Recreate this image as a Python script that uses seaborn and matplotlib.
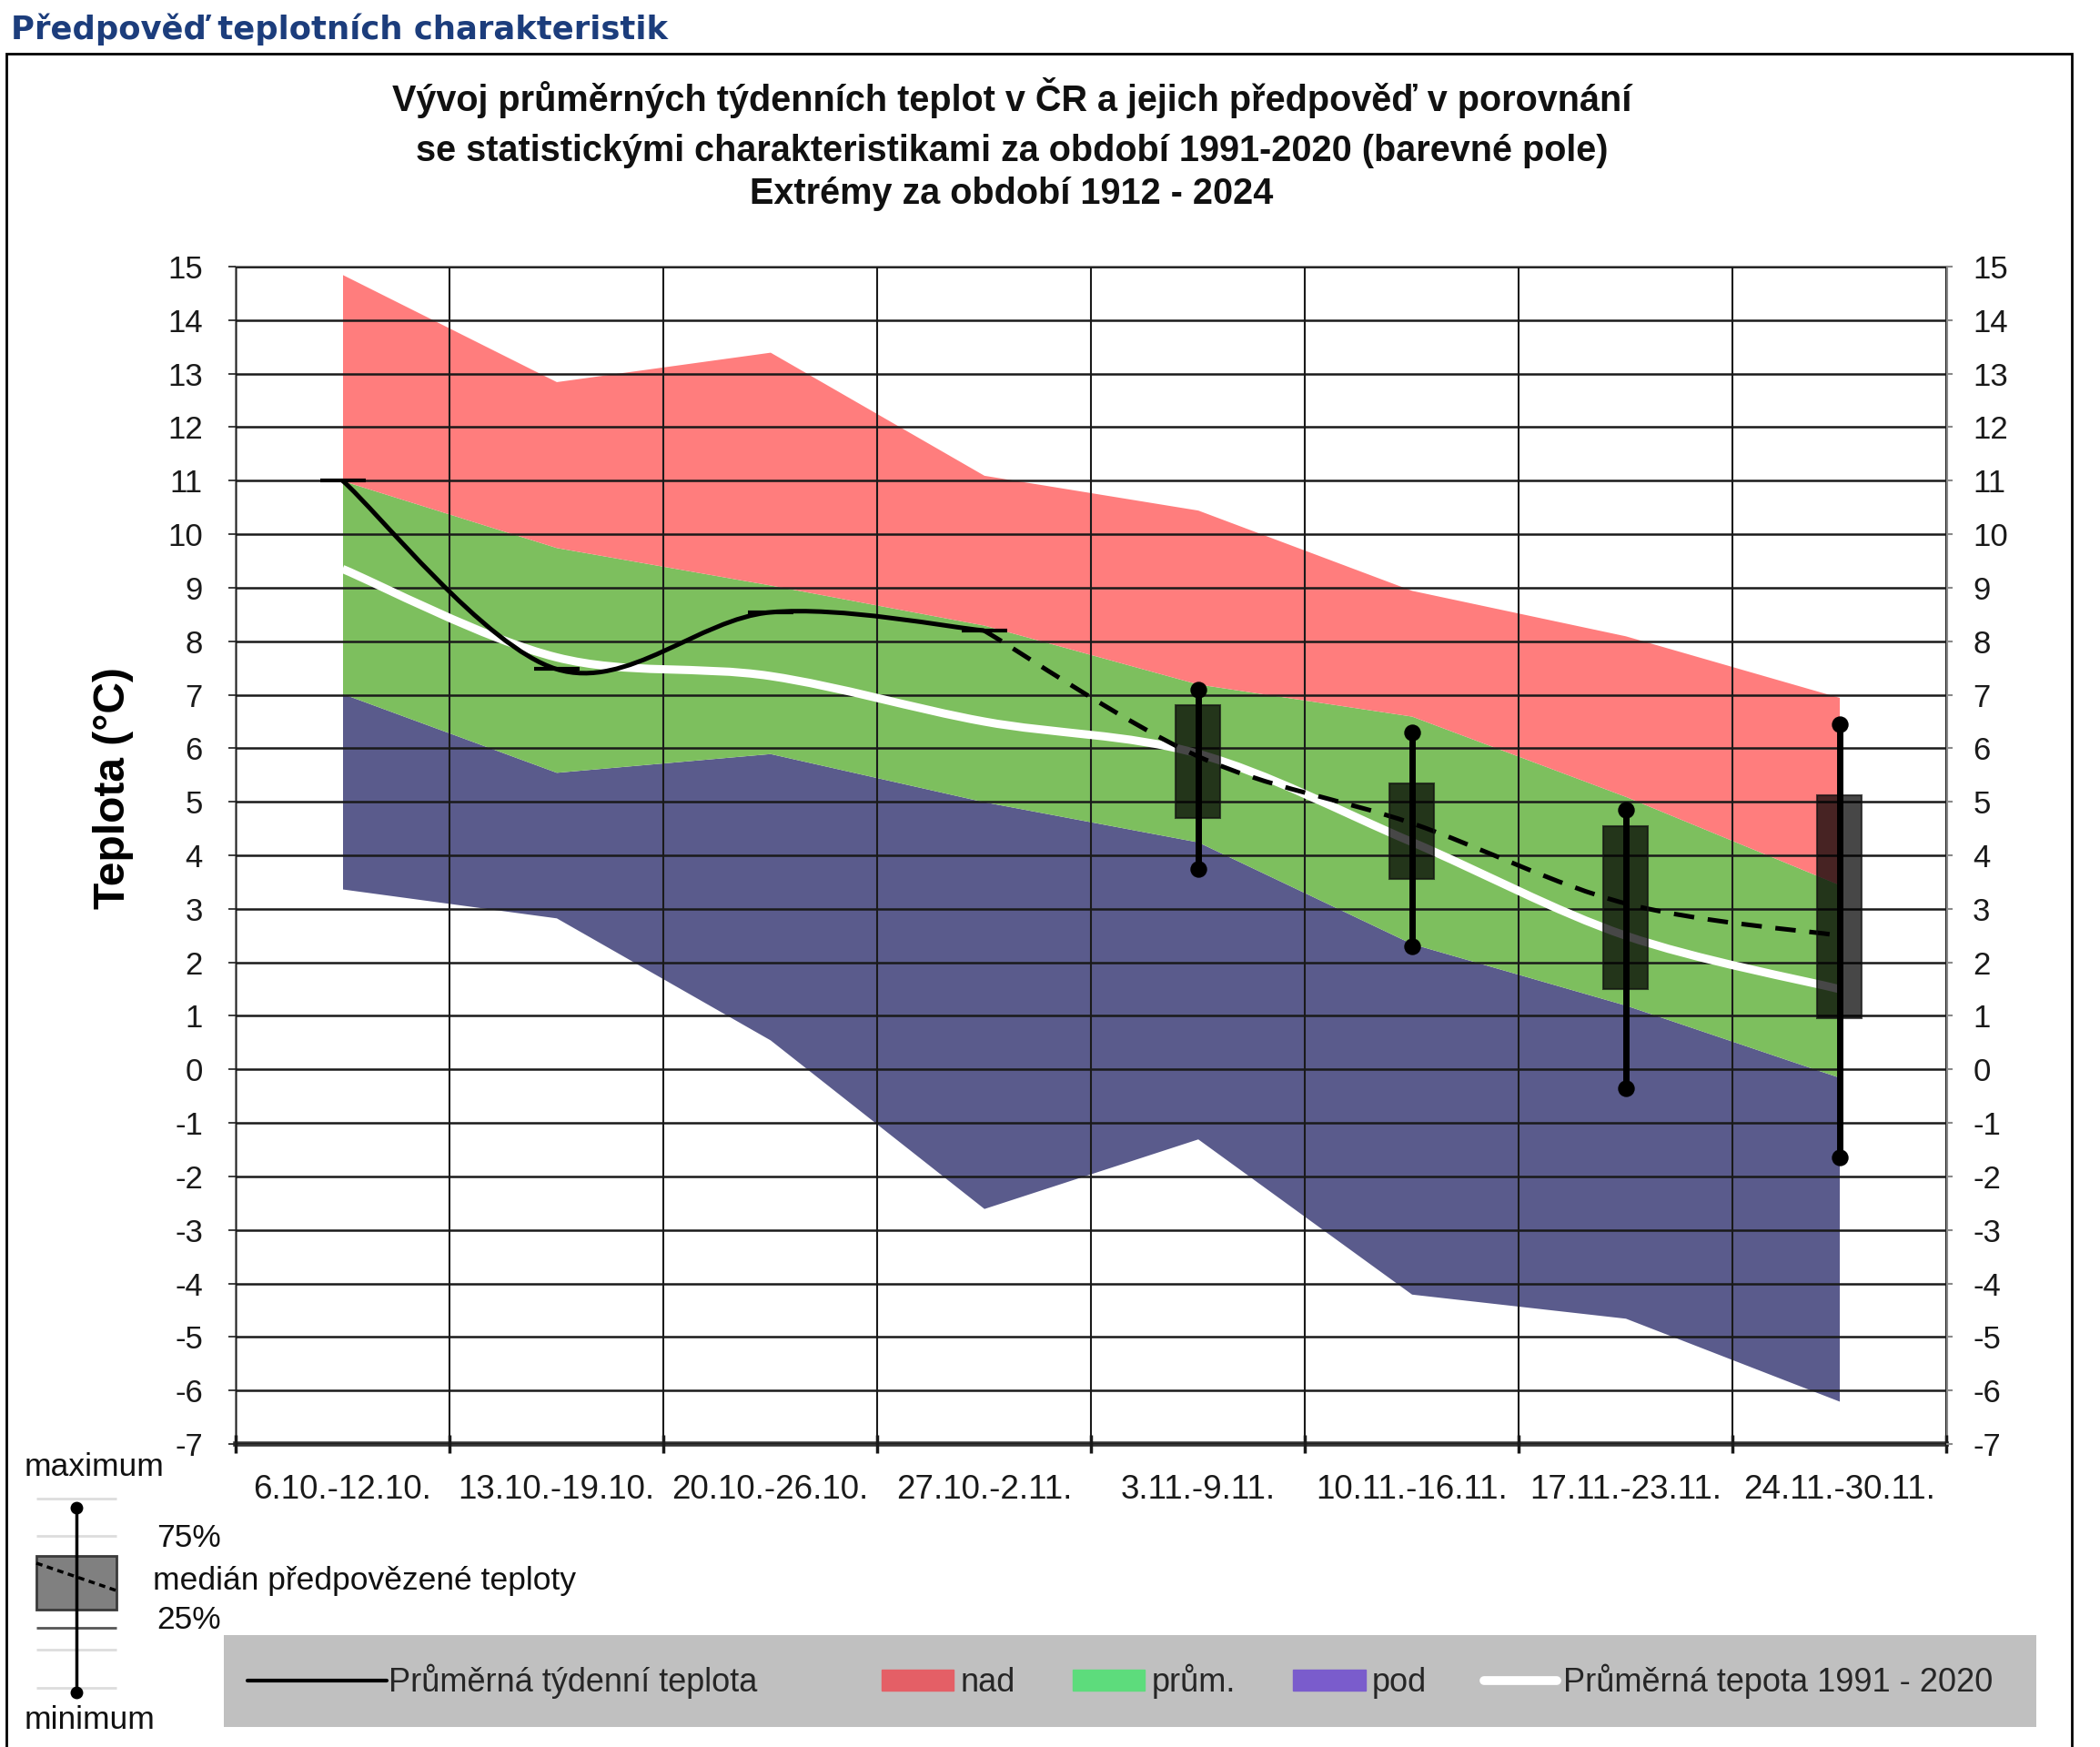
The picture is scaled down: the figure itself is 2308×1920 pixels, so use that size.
import matplotlib
matplotlib.use("Agg")
import matplotlib.pyplot as plt
import seaborn as sns
import numpy as np
import pandas as pd
from matplotlib.path import Path
from matplotlib.patches import PathPatch, Rectangle, Patch
from matplotlib.lines import Line2D

# weeks on the x axis
weeks = ["6.10.-12.10.", "13.10.-19.10.", "20.10.-26.10.", "27.10.-2.11.",
         "3.11.-9.11.", "10.11.-16.11.", "17.11.-23.11.", "24.11.-30.11."]
# extremes 1912-2024 and limits of the 1991-2020 "normal" band
ext_max = [14.85, 12.85, 13.4, 11.1, 10.45, 8.95, 8.1, 6.95]
band_top = [11.0, 9.75, 9.05, 8.3, 7.2, 6.6, 5.1, 3.45]
band_bottom = [7.02, 5.55, 5.9, 5.0, 4.25, 2.35, 1.2, -0.15]
ext_min = [3.37, 2.83, 0.55, -2.6, -1.3, -4.2, -4.65, -6.2]
clim_mean = [9.35, 7.7, 7.35, 6.5, 5.9, 4.25, 2.5, 1.5]
# observed weekly means (weeks 0-3) and forecast median (weeks 3-7)
observed = [11.0, 7.48, 8.54, 8.2]
forecast = [8.2, 5.85, 4.6, 3.1, 2.5]
# forecast spread for weeks 4-7
fc_q25 = [4.7, 3.55, 1.5, 0.95]
fc_q75 = [6.8, 5.35, 4.55, 5.12]
fc_min = [3.75, 2.3, -0.35, -1.65]
fc_max = [7.1, 6.3, 4.85, 6.45]
yticks = list(range(-7, 16))
ytick_labels = [str(v) for v in yticks]

RED = "#ff7d7d"
GREEN = "#7dbf5e"
BLUE = "#5a5b8c"

sns.set_theme(style="white")
plt.rcParams["font.family"] = ["Liberation Sans", "DejaVu Sans"]

df = pd.DataFrame({"week": weeks, "x": np.arange(len(weeks)),
                   "ext_max": ext_max, "top": band_top, "bottom": band_bottom,
                   "ext_min": ext_min, "clim": clim_mean})
fc = pd.DataFrame({"x": np.arange(4, 8), "q25": fc_q25, "q75": fc_q75,
                   "lo": fc_min, "hi": fc_max})


def smooth_path(xs, ys):
    # excel-like smoothed line: bezier segments through the points
    pts = np.column_stack([xs, ys]).astype(float)
    n = len(pts)
    verts = [pts[0]]
    codes = [Path.MOVETO]
    for i in range(n - 1):
        p0 = pts[max(i - 1, 0)]
        p1 = pts[i]
        p2 = pts[i + 1]
        p3 = pts[min(i + 2, n - 1)]
        verts += [p1 + (p2 - p0) / 6, p2 - (p3 - p1) / 6, p2]
        codes += [Path.CURVE4] * 3
    return Path(verts, codes)


W, H = 2308, 1920
fig = plt.figure(figsize=(W / 100, H / 100), dpi=100)
ax = fig.add_axes([259 / W, 1 - 1587 / H, 1880 / W, 1294 / H])

ax.fill_between(df.x, df.ext_min, df.bottom, color=BLUE, lw=0, zorder=1)
ax.fill_between(df.x, df.bottom, df.top, color=GREEN, lw=0, zorder=1)
ax.fill_between(df.x, df.top, df.ext_max, color=RED, lw=0, zorder=1)

ax.add_patch(PathPatch(smooth_path(df.x, df.clim), fill=False, ec="white",
                       lw=6.5, capstyle="butt", zorder=3))
ax.add_patch(PathPatch(smooth_path(df.x[:4], observed), fill=False, ec="black",
                       lw=3.6, zorder=4))
ax.add_patch(PathPatch(smooth_path(np.arange(3, 8), forecast), fill=False,
                       ec="black", lw=3.6, ls=(0, (4.5, 3)), zorder=4))
ax.plot(df.x[:4], observed, ls="none", marker="_", ms=36, mew=3,
        color="black", zorder=4)

ax.bar(fc.x, fc.q75 - fc.q25, bottom=fc.q25, width=0.21, color="black",
       alpha=0.72, edgecolor="#111111", lw=1.5, zorder=5)
ax.vlines(fc.x, fc.lo, fc.hi, color="black", lw=5, zorder=6)
sns.scatterplot(x=np.concatenate([fc.x, fc.x]), y=np.concatenate([fc.lo, fc.hi]),
                color="black", s=150, marker="o", edgecolor="black",
                ax=ax, zorder=7, legend=False)

ax.set_xlim(-0.5, 7.5)
ax.set_ylim(-7, 15)
ax.set_yticks(yticks)
ax.set_yticklabels(ytick_labels)
ax.set_xticks(df.x)
ax.set_xticklabels(weeks)
ax.set_xticks(np.arange(-0.5, 8, 1), minor=True)
ax.set_axisbelow(False)
ax.grid(axis="y", which="major", color="#1a1a1a", lw=1.8)
ax.grid(axis="x", which="minor", color="#1a1a1a", lw=1.5)
ax.grid(axis="x", which="major", visible=False)
ax.tick_params(axis="y", left=False, pad=20, labelsize=25, labelcolor="#1a1a1a")
ax.tick_params(axis="x", which="major", length=0, pad=24, labelsize=26.5,
               labelcolor="#1a1a1a")
ax.tick_params(axis="x", which="minor", bottom=True, direction="inout",
               length=14, width=2.5, color="#1a1a1a")
for s in ["left", "top", "right"]:
    ax.spines[s].set_color("#8a8a8a")
    ax.spines[s].set_linewidth(2.2)
ax.spines["bottom"].set_color("#333333")
ax.spines["bottom"].set_linewidth(4)
ax.set_ylabel("Teplota (°C)", fontsize=34.5, fontweight="bold", color="black")
ax.yaxis.set_label_coords(-0.0596, 0.557)

ax2 = ax.twinx()
ax2.set_ylim(-7, 15)
ax2.set_yticks(yticks)
ax2.set_yticklabels(ytick_labels)
ax2.tick_params(axis="y", right=True, length=5, width=1.5, color="#8a8a8a",
                pad=16, labelsize=25, labelcolor="#1a1a1a")
for s in ax2.spines.values():
    s.set_visible(False)
ax2.grid(False)

# heading, frame and titles
fig.text(12 / W, 1 - 32 / H, "Předpověď teplotních charakteristik", ha="left",
         va="center", fontsize=25.5, fontweight="bold", color="#1c3d7c",
         family=["DejaVu Sans"])
fig.add_artist(Rectangle((7 / W, -0.01), 2270 / W, (H - 59) / H + 0.01,
                         transform=fig.transFigure, fill=False, ec="black", lw=2))
titles = ["Vývoj průměrných týdenních teplot v ČR a jejich předpověď v porovnání",
          "se statistickými charakteristikami za období 1991-2020 (barevné pole)",
          "Extrémy za období 1912 - 2024"]
for t, yy in zip(titles, [107, 166, 213]):
    fig.text(1112 / W, 1 - yy / H, t, ha="center", va="center", fontsize=28.5,
             fontweight="bold", color="#111111")

# legend bar
fig.add_artist(Rectangle((246 / W, 1 - 1898 / H), 1992 / W, 101 / H,
                         transform=fig.transFigure, color="#c0c0c0", lw=0))
leg_a = fig.legend([Line2D([], [], color="black", lw=3)],
                   ["Průměrná týdenní teplota"], loc="center left",
                   bbox_to_anchor=(272 / W, 1 - 1848 / H), frameon=False,
                   fontsize=26, handlelength=4.25, handletextpad=0.05,
                   borderpad=0, borderaxespad=0)
handles = [Patch(color="#e45f66"), Patch(color="#5ddc7c"), Patch(color="#7a5ccc"),
           Line2D([], [], color="white", lw=7)]
labels = ["nad", "prům.", "pod", "Průměrná tepota 1991 - 2020"]
fig.legend(handles, labels, loc="center right",
           bbox_to_anchor=(2190 / W, 1 - 1848 / H), ncol=4, frameon=False,
           fontsize=26, handlelength=2.2, handleheight=0.6, handletextpad=0.2,
           columnspacing=1.75, borderpad=0, borderaxespad=0)

# key for the forecast box
kax = fig.add_axes([20 / W, 1 - 1870 / H, 130 / W, 230 / H])
kax.set_xlim(0, 1)
kax.set_ylim(0, 1)
kax.axis("off")
key_faint = [0.97, 0.79, 0.25, 0.065]
key_mid = 0.352
key_box = (0.154, 0.439, 0.677, 0.257)
key_whisker = (0.492, 0.043, 0.926)
key_median = ([0.154, 0.831], [0.661, 0.53])
kax.hlines(key_faint, 0.154, 0.831, color="#dddddd", lw=2)
kax.hlines(key_mid, 0.154, 0.831, color="#555555", lw=2)
kax.add_patch(Rectangle(key_box[:2], key_box[2], key_box[3], fc="#808080",
                        ec="#3a3a3a", lw=2))
kax.plot(*key_median, color="black", lw=2.5, ls=(0, (2, 1.5)))
kax.vlines(key_whisker[0], key_whisker[1], key_whisker[2], color="black", lw=2.5)
kax.plot([key_whisker[0]] * 2, key_whisker[1:], ls="none", marker="o", ms=9,
         color="black")
fig.text(27 / W, 1 - 1613 / H, "maximum", fontsize=25.5, va="center", color="#111111")
fig.text(27 / W, 1 - 1890 / H, "minimum", fontsize=25.5, va="center", color="#111111")
fig.text(172 / W, 1 - 1690 / H, "75%", fontsize=25.5, va="center", color="#111111")
fig.text(168 / W, 1 - 1738 / H, "medián předpovězené teploty", fontsize=25.5,
         va="center", color="#111111")
fig.text(172 / W, 1 - 1780 / H, "25%", fontsize=25.5, va="center", color="#111111")

fig.savefig("out.png", dpi=100)
